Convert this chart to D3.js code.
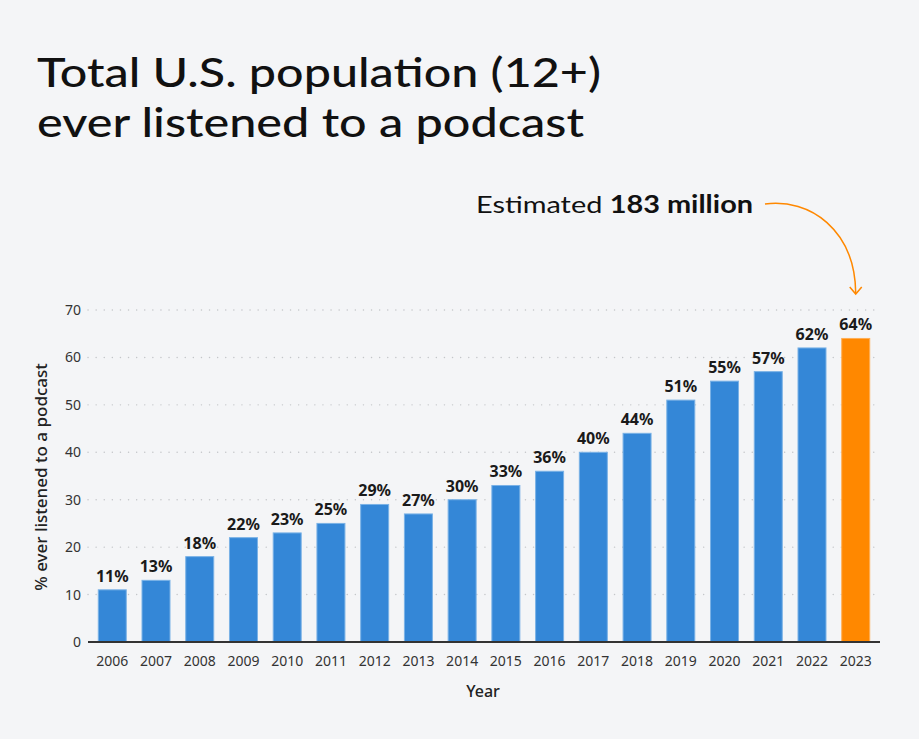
<!DOCTYPE html>
<html><head><meta charset="utf-8">
<script src="https://cdn.jsdelivr.net/npm/d3@7"></script>
<style>
html,body{margin:0;padding:0;background:#f4f5f7;}
svg{display:block;}
</style></head>
<body>
<svg id="chart" width="919" height="739"></svg>
<script>
const years = ["2006","2007","2008","2009","2010","2011","2012","2013","2014","2015","2016","2017","2018","2019","2020","2021","2022","2023"];
const values = [11,13,18,22,23,25,29,27,30,33,36,40,44,51,55,57,62,64];
const yTicks = [0,10,20,30,40,50,60,70];
const titleLines = ["Total U.S. population (12+)","ever listened to a podcast"];
const titleWidths = [564,547];
const highlightYear = "2023";

const svg = d3.select("#chart");
svg.append("rect").attr("width",919).attr("height",739).attr("fill","#f4f5f7");

const x = d3.scaleBand().domain(years).range([88,880]).paddingInner(0.36).paddingOuter(0.235);
const y = d3.scaleLinear().domain([0,70]).range([642,310]);

// title
svg.append("g").selectAll("text").data(titleLines).join("text")
  .attr("x",37).attr("y",(d,i)=>87+i*50)
  .attr("font-family","Lato, 'Open Sans', sans-serif")
  .attr("font-size",41).attr("font-weight",500).attr("fill","#111")
  .attr("textLength",(d,i)=>titleWidths[i]).attr("lengthAdjust","spacingAndGlyphs")
  .text(d=>d);

// gridlines
svg.append("g").selectAll("line").data(yTicks.filter(d=>d>0)).join("line")
  .attr("x1",88).attr("x2",880).attr("y1",d=>y(d)).attr("y2",d=>y(d))
  .attr("stroke","#c4c6c9").attr("stroke-width",1.4).attr("stroke-dasharray","0.1,8").attr("stroke-linecap","round");

// y axis labels
const yAxis = d3.axisLeft(y).tickValues(yTicks).tickSize(0).tickPadding(0);
const yg = svg.append("g").attr("transform","translate(81,0)").call(yAxis);
yg.select(".domain").remove();
yg.selectAll("text").attr("font-family","'Noto Sans', 'Open Sans', sans-serif").attr("font-size",14).attr("fill","#333");

// bars
svg.append("g").selectAll("rect").data(years).join("rect")
  .attr("x",d=>x(d)).attr("width",x.bandwidth())
  .attr("y",(d,i)=>y(values[i])).attr("height",(d,i)=>y(0)-y(values[i]))
  .attr("fill",d=>d===highlightYear?"#ff8800":"#3487d7")
  .attr("stroke",d=>d===highlightYear?"#ffae55":"#7ab2e6").attr("stroke-width",1);

// value labels
svg.append("g").selectAll("text").data(years).join("text")
  .attr("x",d=>x(d)+x.bandwidth()/2).attr("y",(d,i)=>y(values[i])-8)
  .attr("text-anchor","middle")
  .attr("font-family","'Noto Sans', 'Open Sans', sans-serif").attr("font-size",16).attr("font-weight",700).attr("fill","#1a1a1a")
  .text((d,i)=>values[i]+"%");

// baseline
svg.append("line").attr("x1",88).attr("x2",880).attr("y1",y(0)).attr("y2",y(0)).attr("stroke","#333").attr("stroke-width",2);

// x axis
const xAxis = d3.axisBottom(x).tickSize(0).tickPadding(0);
const xg = svg.append("g").attr("transform",`translate(0,${y(0)+20})`).call(xAxis);
xg.select(".domain").remove();
xg.selectAll("text").attr("font-family","'Noto Sans', 'Open Sans', sans-serif").attr("font-size",14).attr("fill","#333").attr("dy","0.32em");

// axis titles
svg.append("text").attr("x",483).attr("y",697).attr("text-anchor","middle")
  .attr("font-family","'Noto Sans', 'Open Sans', sans-serif").attr("font-size",16).attr("font-weight",500).attr("fill","#222").text("Year");
svg.append("text").attr("transform","translate(47,477) rotate(-90)").attr("text-anchor","middle")
  .attr("font-family","'Noto Sans', 'Open Sans', sans-serif").attr("font-size",17).attr("font-weight",500).attr("fill","#222").text("% ever listened to a podcast");

// annotation
const ann = svg.append("text").attr("x",476).attr("y",213)
  .attr("font-family","Lato, 'Open Sans', sans-serif").attr("font-size",24).attr("fill","#111")
  .attr("textLength",277).attr("lengthAdjust","spacingAndGlyphs");
ann.append("tspan").text("Estimated ");
ann.append("tspan").attr("font-weight",700).text("183 million");

const hx = x(highlightYear)+x.bandwidth()/2;
const path = d3.path();
path.moveTo(765,204);
path.bezierCurveTo(810,198,855,230,hx,293);
svg.append("path").attr("d",path.toString()).attr("fill","none").attr("stroke","#ff8800").attr("stroke-width",1.5);
svg.append("path").attr("d",`M${hx-6},${287} L${hx},${294} L${hx+6},${287}`).attr("fill","none").attr("stroke","#ff8800").attr("stroke-width",1.5);
</script>
</body></html>
